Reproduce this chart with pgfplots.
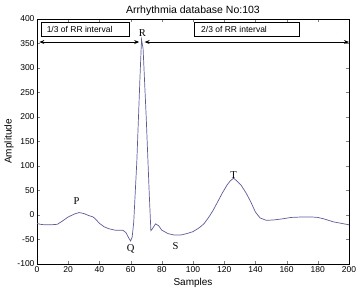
\documentclass[border=0pt]{standalone}
\usepackage{pgfplots}
\pgfplotsset{compat=1.18}
\usepackage{fontspec}
\setmainfont{Liberation Sans}
\newfontfamily\serif{Liberation Serif}
\usetikzlibrary{arrows.meta}
\begin{document}
\begin{tikzpicture}
\begin{axis}[
  scale only axis, width=312pt, height=245pt,
  xmin=0, xmax=200, ymin=-100, ymax=400,
  xtick={0,20,...,200}, ytick={-100,-50,...,400},
  tick align=inside, major tick length=3pt,
  tick label style={font=\fontsize{8.5}{9}\selectfont},
  xticklabel style={yshift=1pt}, yticklabel style={xshift=1pt},
  /pgf/number format/assume math mode=true,
  title={Arrhythmia database No:103},
  title style={font=\fontsize{10.5}{11}\selectfont, yshift=-6pt},
  xlabel={Samples}, ylabel={Amplitude},
  label style={font=\fontsize{10}{11}\selectfont},
  xlabel style={yshift=1pt}, ylabel style={yshift=-3pt},
  axis line style={black, line width=0.6pt},
  clip=false,
]
\addplot[color={rgb,1:red,0.36;green,0.36;blue,0.6}, line width=0.7pt, mark=none] coordinates {
(0,-17) (2,-19) (5,-20) (9,-20) (13,-19) (16,-13) (20,-4) (24,2) (27,5) (30,3) (33,-1) (36,-4) (38,-10) (40,-17) (43,-24) (46,-28) (50,-31) (55,-31) (57,-36) (59,-48) (60,-53) (61,-45) (62,-15) (64,110) (66,280) (67,358) (68,340) (70,200) (72,40) (73,-32) (74,-28) (76,-18) (78,-22) (80,-31) (84,-38) (88,-41) (92,-41) (96,-38) (100,-34) (104,-26) (107,-18) (110,-5) (113,10) (116,28) (119,46) (122,62) (124,70) (126,75) (128,70) (131,60) (134,45) (137,27) (140,6) (143,-6) (147,-11) (152,-10) (157,-8) (163,-5) (170,-4) (176,-4) (180,-5) (184,-8) (190,-14) (195,-17) (200,-20)
};
\draw[black, line width=0.5pt, fill=white] (axis cs:3,365) rectangle (axis cs:59,394);
\node[anchor=west, font=\fontsize{8.5}{9}\selectfont] at (axis cs:4,379.5) {1/3 of RR interval};
\draw[black, line width=0.5pt, fill=white] (axis cs:101,365) rectangle (axis cs:168,394);
\node[anchor=west, font=\fontsize{8.5}{9}\selectfont] at (axis cs:103,379.5) {2/3 of RR interval};
\draw[black, line width=0.7pt, {Stealth[length=5pt,width=4pt]}-{Stealth[length=5pt,width=4pt]}] (axis cs:1.5,353) -- (axis cs:65.5,353);
\draw[black, line width=0.7pt, {Stealth[length=5pt,width=4pt]}-{Stealth[length=5pt,width=4pt]}] (axis cs:69,353) -- (axis cs:200,353);
\node[font=\serif\fontsize{10.5}{11}\selectfont] at (axis cs:67.6,371) {R};
\node[font=\serif\fontsize{10.5}{11}\selectfont] at (axis cs:25.3,29) {P};
\node[font=\serif\fontsize{10.5}{11}\selectfont] at (axis cs:60,-69) {Q};
\node[font=\serif\fontsize{10.5}{11}\selectfont] at (axis cs:88.8,-63) {S};
\node[font=\serif\fontsize{10.5}{11}\selectfont] at (axis cs:126,82) {T};
\end{axis}
\pgfresetboundingbox
\path (current axis.south west) ++(-37pt,-31pt) coordinate (bl);
\path (current axis.north east) ++(10pt,19pt) coordinate (tr);
\path (bl) rectangle (tr);
\end{tikzpicture}
\end{document}
